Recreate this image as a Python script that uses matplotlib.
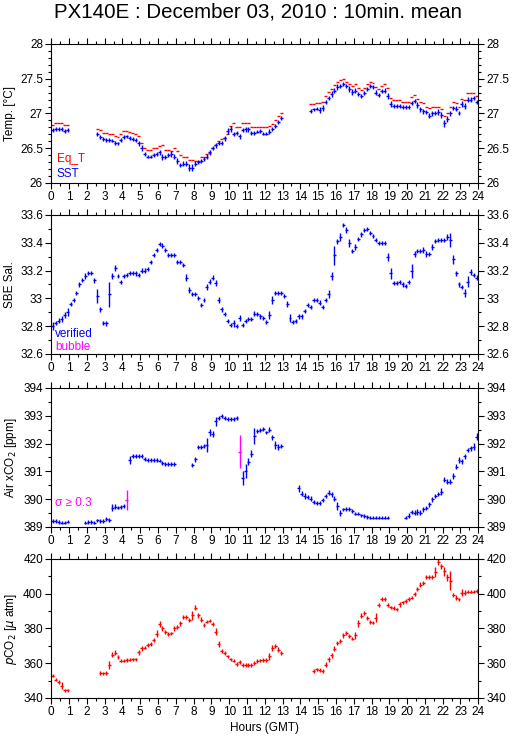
import numpy as np
import matplotlib
matplotlib.use("Agg")
import matplotlib.pyplot as plt
from matplotlib.ticker import MultipleLocator

plt.rcParams['font.family'] = ['Liberation Sans', 'DejaVu Sans']

nan = np.nan

# 10-minute means, one row per hour (6 slots)
sst = [
    26.76, 26.78, 26.78, 26.78, 26.75, 26.76,
    nan, nan, nan, nan, nan, nan,
    nan, nan, nan, 26.70, 26.66, 26.63,
    26.62, 26.62, 26.61, 26.58, 26.57, 26.62,
    26.66, 26.67, 26.65, 26.63, 26.62, 26.57,
    26.50, 26.42, 26.38, 26.38, 26.40, 26.42,
    26.44, 26.37, 26.37, 26.40, 26.42, 26.38,
    26.32, 26.26, 26.28, 26.28, 26.22, 26.22,
    26.28, 26.30, 26.32, 26.34, 26.38, 26.44,
    26.50, 26.54, 26.57, 26.58, 26.64, 26.75,
    26.78, 26.71, 26.72, 26.67, 26.76, 26.77,
    26.77, 26.72, 26.72, 26.74, 26.75, 26.71,
    26.71, 26.74, 26.78, 26.82, 26.88, 26.94,
    nan, nan, nan, nan, nan, nan,
    nan, nan, nan, 27.04, 27.06, 27.07,
    27.05, 27.08, 27.17, 27.22, 27.28, 27.33,
    27.38, 27.40, 27.43, 27.40, 27.35, 27.31,
    27.33, 27.28, 27.25, 27.30, 27.35, 27.39,
    27.38, 27.30, 27.27, 27.32, 27.33, 27.25,
    27.14, 27.11, 27.11, 27.11, 27.09, 27.09,
    27.09, 27.15, 27.18, 27.12, 27.06, 27.03,
    27.02, 26.97, 27.00, 27.01, 27.02, 26.98,
    26.86, 26.92, 27.00, 27.08, 27.07, 27.01,
    27.14, 27.11, 27.20, 27.20, 27.22, 27.16,
]
sst_err = [
    .03, .03, .025, .025, .025, .03,
    0, 0, 0, 0, 0, 0,
    0, 0, 0, .03, .025, .025,
    .025, .025, .025, .03, .025, .025,
    .03, .025, .025, .025, .025, .04,
    .04, .03, .025, .025, .025, .03,
    .04, .04, .03, .03, .04, .04,
    .04, .03, .03, .04, .05, .05,
    .03, .03, .03, .03, .03, .04,
    .03, .04, .03, .03, .04, .04,
    .04, .03, .03, .04, .03, .03,
    .03, .03, .025, .025, .025, .025,
    .025, .03, .03, .03, .03, .03,
    0, 0, 0, 0, 0, 0,
    0, 0, 0, .03, .025, .025,
    .04, .04, .03, .03, .04, .04,
    .04, .03, .03, .03, .04, .04,
    .03, .03, .03, .03, .03, .03,
    .03, .04, .03, .03, .03, .04,
    .04, .03, .03, .025, .025, .03,
    .03, .03, .03, .04, .04, .04,
    .03, .03, .03, .03, .04, .04,
    .05, .04, .04, .03, .04, .03,
    .04, .04, .04, .03, .03, .03,
]
eq_t = [
    26.84, 26.86, 26.86, 26.86, 26.83, 26.84,
    nan, nan, nan, nan, nan, nan,
    nan, nan, nan, 26.78, 26.76, 26.72,
    26.72, 26.71, 26.70, 26.68, 26.66, 26.70,
    26.75, 26.75, 26.74, 26.72, 26.70, 26.67,
    26.58, 26.51, 26.47, 26.47, 26.50, 26.50,
    26.53, 26.54, 26.47, 26.47, 26.46, 26.51,
    26.46, 26.40, 26.38, 26.38, 26.33, 26.33,
    26.32, 26.32, 26.38, 26.38, 26.41, 26.43,
    26.50, 26.55, 26.61, 26.63, 26.64, 26.70,
    26.82, 26.87, 26.80, 26.80, 26.86, 26.86,
    26.86, 26.80, 26.80, 26.81, 26.81, 26.80,
    26.80, 26.82, 26.85, 26.91, 26.96, 27.01,
    nan, nan, nan, nan, nan, nan,
    nan, nan, nan, 27.13, 27.14, 27.15,
    27.15, 27.16, 27.25, 27.31, 27.35, 27.41,
    27.46, 27.48, 27.50, 27.46, 27.43, 27.39,
    27.42, 27.36, 27.34, 27.37, 27.42, 27.45,
    27.44, 27.38, 27.35, 27.40, 27.43, 27.36,
    27.22, 27.19, 27.20, 27.19, 27.17, 27.17,
    27.17, 27.24, 27.27, 27.21, 27.16, 27.15,
    27.10, 27.08, 27.09, 27.10, 27.10, 27.07,
    26.97, 27.00, 27.10, 27.16, 27.15, 27.10,
    27.21, 27.20, 27.30, 27.30, 27.30, 27.25,
]
sal = [
    32.80, 32.82, 32.84, 32.85, 32.88, 32.90,
    32.96, 32.99, 33.04, 33.10, 33.13, 33.16,
    33.18, 33.18, 33.13, 33.02, 32.92, 32.82,
    32.82, 33.03, 33.16, 33.22, 33.16, 33.12,
    33.16, 33.17, 33.18, 33.18, 33.18, 33.17,
    33.20, 33.20, 33.21, 33.26, 33.31, 33.35,
    33.39, 33.38, 33.35, 33.31, 33.31, 33.31,
    33.26, 33.26, 33.24, 33.15, 33.06, 33.03,
    33.03, 33.00, 32.95, 32.99, 33.08, 33.12,
    33.15, 33.11, 32.99, 32.92, 32.89, 32.84,
    32.81, 32.82, 32.80, 32.86, 32.81, 32.84,
    32.85, 32.85, 32.89, 32.89, 32.87, 32.86,
    32.83, 32.88, 32.99, 33.04, 33.04, 33.04,
    33.02, 32.96, 32.86, 32.83, 32.84, 32.87,
    32.87, 32.91, 32.95, 32.94, 32.99, 32.99,
    32.97, 32.94, 32.99, 33.03, 33.16, 33.31,
    33.41, 33.44, 33.53, 33.49, 33.40, 33.34,
    33.37, 33.43, 33.46, 33.49, 33.50, 33.47,
    33.45, 33.42, 33.40, 33.40, 33.40, 33.30,
    33.18, 33.11, 33.11, 33.12, 33.10, 33.09,
    33.12, 33.20, 33.32, 33.34, 33.34, 33.35,
    33.32, 33.32, 33.37, 33.41, 33.42, 33.42,
    33.42, 33.44, 33.42, 33.28, 33.18, 33.10,
    33.08, 33.04, 33.12, 33.19, 33.17, 33.15,
]
sal_err = [
    .03, .015, .02, .02, .02, .03,
    .015, .015, .015, .02, .015, .02,
    .015, .015, .02, .05, .015, .015,
    .02, .09, .02, .02, .015, .015,
    .015, .015, .015, .015, .02, .015,
    .02, .02, .015, .015, .015, .015,
    .015, .015, .015, .015, .015, .015,
    .015, .015, .015, .025, .02, .015,
    .015, .015, .015, .015, .02, .02,
    .015, .02, .02, .015, .015, .015,
    .015, .025, .015, .02, .015, .015,
    .015, .015, .02, .015, .015, .015,
    .015, .03, .03, .015, .015, .015,
    .015, .02, .03, .015, .015, .015,
    .015, .015, .015, .015, .015, .015,
    .015, .015, .015, .03, .03, .07,
    .02, .03, .015, .02, .03, .015,
    .02, .015, .015, .015, .015, .015,
    .015, .015, .015, .015, .015, .03,
    .04, .015, .015, .015, .015, .015,
    .015, .05, .02, .015, .015, .02,
    .02, .015, .02, .015, .015, .015,
    .015, .02, .05, .03, .02, .02,
    .015, .03, .04, .02, .015, .015,
]
air = [
    389.22, 389.22, 389.18, 389.16, 389.16, 389.19,
    nan, nan, nan, nan, nan, 389.16,
    389.18, 389.18, 389.15, 389.24, 389.22, 389.22,
    389.29, 389.25, 389.70, 389.72, 389.70, 389.72,
    389.75, 389.96, 391.41, 391.55, 391.55, 391.55,
    391.55, 391.43, 391.41, 391.41, 391.41, 391.41,
    391.39, 391.29, 391.25, 391.25, 391.28, 391.25,
    nan, nan, nan, nan, nan, 391.23,
    391.43, 391.87, 391.89, 391.92, 391.95, 392.40,
    392.35, 392.80, 392.92, 393.00, 392.92, 392.89,
    392.89, 392.89, 392.92, 391.71, 390.75, 391.01,
    391.35, 391.63, 392.28, 392.46, 392.49, 392.52,
    392.40, 392.49, 392.22, 391.95, 391.87, 391.92,
    nan, nan, nan, nan, nan, 390.39,
    390.20, 390.11, 390.08, 390.02, 389.90, 389.87,
    389.87, 389.96, 390.11, 390.23, 390.18, 390.02,
    389.75, 389.51, 389.63, 389.66, 389.66, 389.58,
    389.48, 389.48, 389.42, 389.39, 389.36, 389.34,
    389.34, 389.34, 389.34, 389.34, 389.34, 389.34,
    nan, nan, nan, nan, nan, 389.34,
    389.41, 389.54, 389.52, 389.54, 389.52, 389.63,
    389.69, 389.81, 389.99, 390.11, 390.18, 390.27,
    390.69, 390.63, 390.63, 390.83, 391.17, 391.41,
    391.37, 391.55, 391.77, 391.83, 391.89, 392.25,
]
air_err = [
    .06, .06, .06, .06, .06, .06,
    0, 0, 0, 0, 0, .06,
    .06, .06, .06, .06, .06, .06,
    .06, .08, .13, .09, .07, .07,
    .07, .36, .13, .07, .07, .07,
    .07, .07, .07, .07, .07, .07,
    .07, .07, .07, .07, .07, .07,
    0, 0, 0, 0, 0, .08,
    .10, .07, .07, .07, .25, .13,
    .10, .15, .07, .08, .06, .06,
    .06, .06, .06, .60, .25, .25,
    .13, .13, .28, .08, .07, .07,
    .07, .09, .08, .13, .10, .08,
    0, 0, 0, 0, 0, .13,
    .10, .10, .08, .08, .08, .07,
    .07, .07, .08, .09, .09, .09,
    .15, .10, .07, .07, .07, .06,
    .06, .06, .06, .06, .06, .06,
    .06, .06, .06, .06, .06, .06,
    0, 0, 0, 0, 0, .06,
    .08, .08, .08, .10, .10, .08,
    .08, .08, .09, .08, .08, .13,
    .09, .08, .08, .10, .09, .10,
    .09, .09, .08, .08, .13, .13,
]
pco2 = [
    352.8, 350.5, 349.3, 347.0, 344.4, 344.4,
    nan, nan, nan, nan, nan, nan,
    nan, nan, nan, nan, 354.5, 354.2,
    354.5, 359.0, 365.0, 366.0, 363.5, 361.5,
    361.5, 361.8, 362.0, 362.3, 362.3, 366.3,
    368.5, 369.0, 370.5, 371.0, 373.5, 377.0,
    382.5, 380.0, 378.0, 376.8, 377.2, 380.0,
    381.0, 383.0, 386.5, 386.5, 385.0, 387.5,
    392.0, 387.5, 385.0, 382.0, 384.0, 384.5,
    382.5, 378.0, 371.0, 367.0, 366.0, 364.0,
    362.3, 361.5, 359.5, 360.5, 359.0, 359.0,
    359.0, 359.0, 360.2, 361.2, 361.6, 361.8,
    361.8, 364.0, 368.9, 369.8, 367.9, 366.0,
    nan, nan, nan, nan, nan, nan,
    nan, nan, nan, nan, 355.4, 356.4,
    356.2, 355.4, 359.1, 362.2, 364.5, 368.4,
    371.6, 372.6, 376.1, 377.6, 375.5, 374.2,
    376.1, 382.9, 387.3, 388.7, 386.2, 383.8,
    383.4, 386.2, 393.5, 397.0, 397.0, 393.5,
    392.1, 391.9, 391.0, 393.9, 395.1, 395.8,
    397.0, 397.8, 399.7, 402.8, 405.1, 406.1,
    409.6, 409.6, 409.6, 412.5, 418.3, 415.7,
    412.8, 409.6, 407.6, 399.3, 397.8, 396.8,
    400.7, 400.7, 401.2, 401.2, 401.2, 401.6,
]
pco2_err = [
    1.0, 1.0, 1.0, 2.0, 1.0, 1.0,
    0, 0, 0, 0, 0, 0,
    0, 0, 0, 0, 1.0, 1.0,
    1.0, 2.5, 1.4, 1.4, 1.0, 1.0,
    1.0, 1.0, 1.0, 1.0, 1.0, 1.4,
    1.2, 1.0, 1.0, 1.2, 1.0, 2.0,
    1.6, 1.4, 1.2, 1.0, 1.0, 1.4,
    1.2, 1.4, 1.0, 1.0, 1.0, 2.5,
    1.4, 1.2, 1.4, 1.2, 1.0, 1.0,
    1.2, 2.0, 1.6, 1.0, 1.0, 1.0,
    1.0, 1.0, 1.2, 1.2, 1.0, 1.0,
    1.0, 1.0, 1.2, 1.0, 1.0, 1.0,
    1.0, 2.0, 1.6, 1.2, 1.2, 1.0,
    0, 0, 0, 0, 0, 0,
    0, 0, 0, 0, 1.0, 1.0,
    1.0, 1.0, 1.4, 1.4, 1.2, 1.4,
    1.2, 1.2, 1.4, 1.2, 1.2, 1.0,
    2.0, 2.0, 1.4, 1.2, 1.2, 1.2,
    1.0, 2.5, 1.4, 1.2, 1.0, 1.4,
    1.0, 1.0, 1.0, 1.4, 1.0, 1.0,
    1.0, 1.0, 1.2, 1.2, 1.4, 1.2,
    1.4, 1.2, 1.0, 3.0, 2.0, 1.4,
    2.5, 2.0, 5.5, 1.2, 1.2, 1.0,
    2.0, 1.2, 1.0, 1.0, 1.0, 1.0,
]

hours = (np.arange(144) + 0.5) / 6.0
half = 1.0 / 12.0

BLUE = '#0000ff'
RED = '#ff0000'
MAG = '#ff00ff'
FS = 8.5

fig = plt.figure(figsize=(5.15, 7.39), dpi=100)
left, width = 0.0996, 0.8291
bottoms = [0.7524, 0.5210, 0.2869, 0.0555]
height = 0.1881
axes = [fig.add_axes([left, b, width, height]) for b in bottoms]


def style(ax, ylim, major, minor, ylabel, fmt):
    ax.set_xlim(0, 24)
    ax.set_ylim(*ylim)
    ax.xaxis.set_major_locator(MultipleLocator(1))
    ax.xaxis.set_minor_locator(MultipleLocator(0.5))
    ax.yaxis.set_major_locator(MultipleLocator(major))
    ax.yaxis.set_minor_locator(MultipleLocator(minor))
    ax.yaxis.set_major_formatter(plt.FuncFormatter(fmt))
    ax.tick_params(which='both', direction='out', top=True, right=True,
                   labelright=True, labelsize=FS, width=0.8, pad=2)
    ax.tick_params(which='major', length=4)
    ax.tick_params(which='minor', length=2)
    ax.set_ylabel(ylabel, fontsize=FS, labelpad=3)
    for s in ax.spines.values():
        s.set_linewidth(0.8)


ekw = dict(fmt='none', elinewidth=1.0, capsize=0)

# Temperature
ax = axes[0]
ax.errorbar(hours, eq_t, xerr=half, ecolor=RED, **ekw)
ax.errorbar(hours, sst, xerr=half, yerr=sst_err, ecolor=BLUE, **ekw)
style(ax, (26, 28), 0.5, 0.1, 'Temp. [°C]', lambda v, p: f'{v:g}')
ax.text(0.3, 26.3, 'Eq_T', color=RED, fontsize=FS)
ax.text(0.3, 26.08, 'SST', color=BLUE, fontsize=FS)

# Salinity
ax = axes[1]
ax.errorbar(hours, sal, xerr=half, yerr=sal_err, ecolor=BLUE, **ekw)
style(ax, (32.6, 33.6), 0.2, 0.1, 'SBE Sal.',
      lambda v, p: f'{v:.1f}'.rstrip('0').rstrip('.'))
ax.text(0.2, 32.725, 'verified', color=BLUE, fontsize=FS)
ax.text(0.2, 32.63, 'bubble', color=MAG, fontsize=FS)

# Air xCO2 (sigma >= 0.3 in magenta)
ax = axes[2]
air_a = np.array(air)
air_e = np.array(air_err)
flag = air_e >= 0.3
ax.errorbar(hours[~flag], air_a[~flag], xerr=half, yerr=air_e[~flag], ecolor=BLUE, **ekw)
ax.errorbar(hours[flag], air_a[flag], xerr=half, yerr=air_e[flag], ecolor=MAG, **ekw)
style(ax, (389, 394), 1, 0.5, 'Air xCO$_2$ [ppm]', lambda v, p: f'{v:.0f}')
ax.text(0.2, 389.75, 'σ ≥ 0.3', color=MAG, fontsize=FS)

# pCO2
ax = axes[3]
ax.errorbar(hours, pco2, xerr=half, yerr=pco2_err, ecolor=RED, **ekw)
style(ax, (340, 420), 20, 10, r'$p$CO$_2$ [$\mu$ atm]', lambda v, p: f'{v:.0f}')
ax.set_xlabel('Hours (GMT)', fontsize=FS, labelpad=3)

fig.suptitle('PX140E : December 03, 2010 : 10min. mean', fontsize=14.8, y=0.997, va='top')

fig.savefig('out.png', dpi=100)
